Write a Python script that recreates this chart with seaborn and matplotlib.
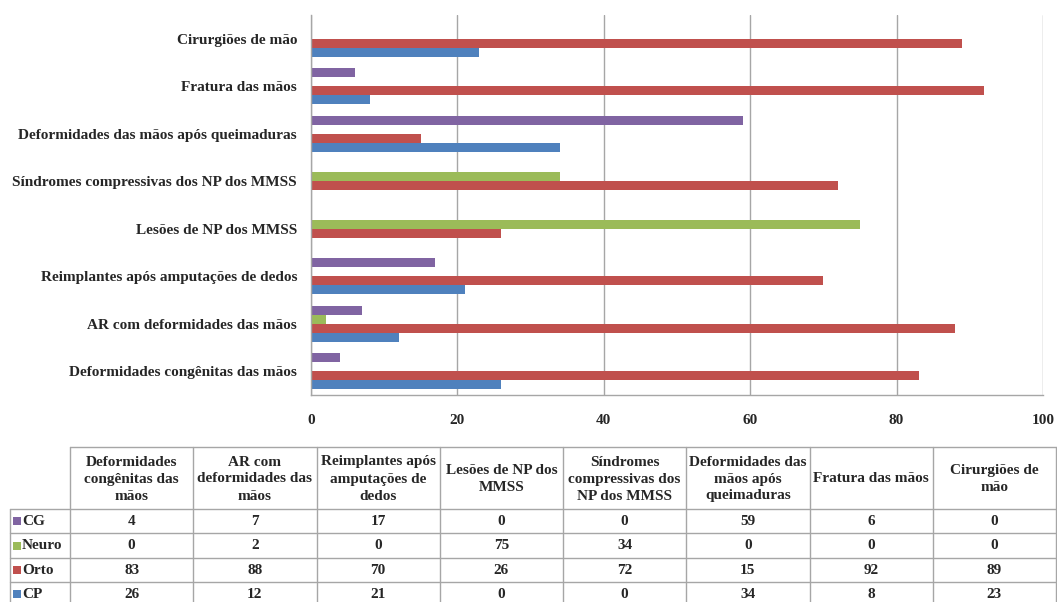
import pandas as pd
import seaborn as sns
import matplotlib.pyplot as plt

categorias = [
    "Deformidades congênitas das mãos",
    "AR com deformidades das mãos",
    "Reimplantes após amputações de dedos",
    "Lesões de NP dos MMSS",
    "Síndromes compressivas dos NP dos MMSS",
    "Deformidades das mãos após queimaduras",
    "Fratura das mãos",
    "Cirurgiões de mão",
]
cabecalho_tabela = [
    "Deformidades\ncongênitas das\nmãos",
    "AR com\ndeformidades das\nmãos",
    "Reimplantes após\namputações de\ndedos",
    "Lesões de NP dos\nMMSS",
    "Síndromes\ncompressivas dos\nNP dos MMSS",
    "Deformidades das\nmãos após\nqueimaduras",
    "Fratura das mãos",
    "Cirurgiões de\nmão",
]
series = ["CG", "Neuro", "Orto", "CP"]
cg = [4, 7, 17, 0, 0, 59, 6, 0]
neuro = [0, 2, 0, 75, 34, 0, 0, 0]
orto = [83, 88, 70, 26, 72, 15, 92, 89]
cp = [26, 12, 21, 0, 0, 34, 8, 23]
cores = {"CG": "#8064A2", "Neuro": "#9BBB59", "Orto": "#C0504D", "CP": "#4F81BD"}

valores = {"CG": cg, "Neuro": neuro, "Orto": orto, "CP": cp}

W, H = 1057, 602
FONT = ["Liberation Serif", "DejaVu Serif"]
FS = 11

sns.set_style("white")
plt.rcParams["font.family"] = FONT
plt.rcParams["font.weight"] = "bold"

rows = []
for s in series:
    for c, v in zip(categorias, valores[s]):
        rows.append({"categoria": c, "serie": s, "valor": v})
df = pd.DataFrame(rows)

fig = plt.figure(figsize=(W / 100, H / 100), dpi=100)

# --- bar chart ---
ax = fig.add_axes([311 / W, 1 - 395 / H, (1043 - 311) / W, (395 - 15) / H])
sns.barplot(data=df, x="valor", y="categoria", hue="serie", hue_order=series,
            order=categorias[::-1], palette=cores, orient="h", width=0.76,
            saturation=1, linewidth=0, legend=False, ax=ax)
ax.set_xlim(0, 100)
ax.set_xticks(range(0, 101, 20))
ax.set_xlabel("")
ax.set_ylabel("")
ax.grid(axis="x", color="#A6A6A6", linewidth=1)
ax.set_axisbelow(True)
for side in ["top", "right"]:
    ax.spines[side].set_visible(False)
for side in ["left", "bottom"]:
    ax.spines[side].set_color("#A6A6A6")
    ax.spines[side].set_linewidth(1)
ax.tick_params(axis="x", length=0, pad=14, labelsize=FS)
ax.tick_params(axis="y", length=0, pad=10, labelsize=FS)
ax.set_yticks([i + 0.5 for i in range(-1, len(categorias))], minor=True)
ax.tick_params(axis="y", which="minor", length=4, color="#A6A6A6", direction="out")
for t in ax.get_xticklabels() + ax.get_yticklabels():
    t.set_fontweight("bold")

# --- data table ---
tax = fig.add_axes([0, 0, 1, 1])
tax.set_xlim(0, W)
tax.set_ylim(H, 0)
tax.axis("off")

col_left, col_right = 70, 1056
row_lbl_left = 10
head_top, head_bot, row_h = 447, 509, 24.4
col_w = (col_right - col_left) / len(cabecalho_tabela)
linha = dict(color="#A6A6A6", linewidth=1)

n_rows = len(series)
bottom = head_bot + n_rows * row_h
tax.plot([col_left, col_right], [head_top, head_top], **linha)
for j in range(len(cabecalho_tabela) + 1):
    x = col_left + j * col_w
    tax.plot([x, x], [head_top, bottom], **linha)
tax.plot([row_lbl_left, row_lbl_left], [head_bot, bottom], **linha)
for i in range(n_rows + 1):
    y = head_bot + i * row_h
    tax.plot([row_lbl_left, col_right], [y, y], **linha)

for j, txt in enumerate(cabecalho_tabela):
    tax.text(col_left + (j + 0.5) * col_w, (head_top + head_bot) / 2 + 1, txt,
             ha="center", va="center", fontsize=FS, fontweight="bold",
             linespacing=1.4)

for i, s in enumerate(series):
    yc = head_bot + (i + 0.5) * row_h
    tax.scatter([17], [yc], marker="s", s=30, color=cores[s], linewidths=0)
    tax.text(22, yc, s, ha="left", va="center", fontsize=FS, fontweight="bold")
    for j, v in enumerate(valores[s]):
        tax.text(col_left + (j + 0.5) * col_w, yc, str(v), ha="center",
                 va="center", fontsize=FS, fontweight="bold")

fig.savefig("out.png", dpi=100)
